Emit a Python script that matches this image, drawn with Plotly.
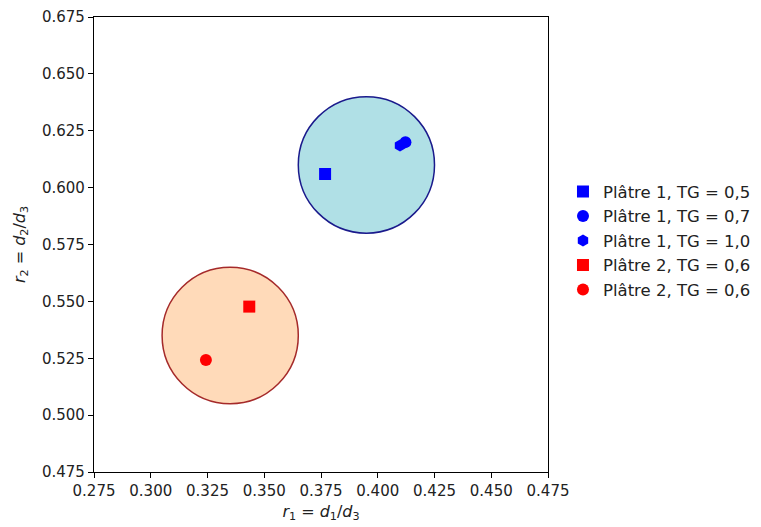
import plotly.graph_objects as go

# Data points
labels = ["Plâtre 1, TG = 0,5", "Plâtre 1, TG = 0,7", "Plâtre 1, TG = 1,0",
          "Plâtre 2, TG = 0,6", "Plâtre 2, TG = 0,6"]
r1_vals = [0.3768, 0.4122, 0.4098, 0.3434, 0.3243]
r2_vals = [0.6060, 0.6200, 0.6185, 0.5477, 0.5242]
colors = ["#0000ff", "#0000ff", "#0000ff", "#ff0000", "#ff0000"]
symbols = ["square", "circle", "hexagon", "square", "circle"]

# Cluster circles
circle_cx = [0.395, 0.335]
circle_cy = [0.610, 0.535]
circle_r = [0.030, 0.030]
circle_fill = ["#b0e0e6", "#ffdab9"]
circle_edge = ["#1a1a8c", "#a52a2a"]

x_ticks = [0.275, 0.300, 0.325, 0.350, 0.375, 0.400, 0.425, 0.450, 0.475]
y_ticks = [0.475, 0.500, 0.525, 0.550, 0.575, 0.600, 0.625, 0.650, 0.675]

fig = go.Figure()

for cx, cy, r, fc, ec in zip(circle_cx, circle_cy, circle_r, circle_fill, circle_edge):
    fig.add_shape(type="circle", xref="x", yref="y",
                  x0=cx - r, x1=cx + r, y0=cy - r, y1=cy + r,
                  fillcolor=fc, line=dict(color=ec, width=1.5), layer="below")

for lab, x, y, c, s in zip(labels, r1_vals, r2_vals, colors, symbols):
    fig.add_trace(go.Scatter(x=[x], y=[y], mode="markers", name=lab,
                             marker=dict(color=c, symbol=s, size=12, line=dict(width=0))))

axis_common = dict(showgrid=False, zeroline=False, showline=True, linecolor="black",
                   linewidth=1.2, mirror=True, ticks="outside", ticklen=5,
                   tickcolor="black", tickfont=dict(size=15, color="#222"),
                   automargin=False)

fig.update_xaxes(range=[0.275, 0.475], tickvals=x_ticks,
                 ticktext=[f"{v:.3f}" for v in x_ticks],
                 title=dict(text="<i>r</i><sub>1</sub> = <i>d</i><sub>1</sub>/<i>d</i><sub>3</sub>",
                            font=dict(size=16), standoff=6), **axis_common)
fig.update_yaxes(range=[0.475, 0.675], tickvals=y_ticks,
                 ticktext=[f"{v:.3f}" for v in y_ticks],
                 title=dict(text="<i>r</i><sub>2</sub> = <i>d</i><sub>2</sub>/<i>d</i><sub>3</sub>",
                            font=dict(size=16), standoff=12), **axis_common)

fig.update_layout(
    width=761, height=527,
    margin=dict(l=86, r=221, t=9, b=63, autoexpand=False),
    plot_bgcolor="white", paper_bgcolor="white",
    font=dict(family="DejaVu Sans", color="#222"),
    legend=dict(x=1.033, y=0.508, xanchor="left", yanchor="middle",
                font=dict(size=16.5), itemsizing="constant", itemwidth=30,
                tracegroupgap=0, bgcolor="rgba(0,0,0,0)"),
)

fig.write_html("out.html")
